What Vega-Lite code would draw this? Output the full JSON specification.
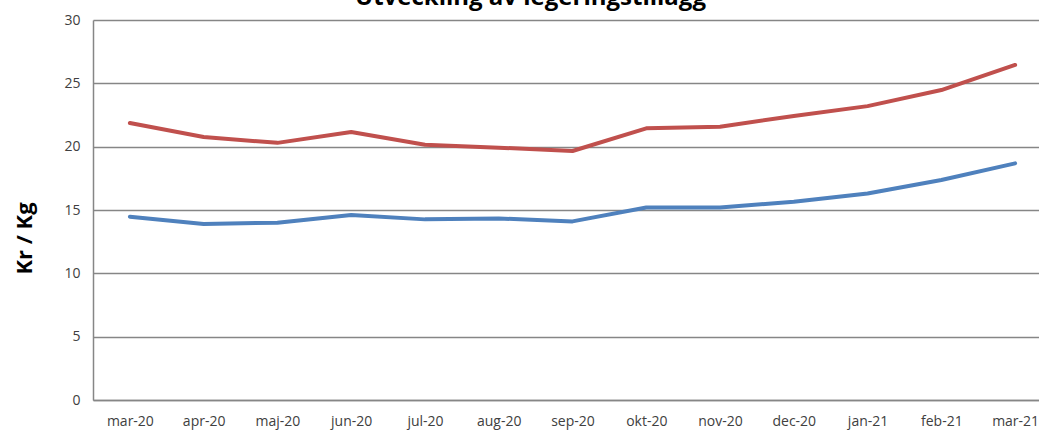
{
  "$schema": "https://vega.github.io/schema/vega-lite/v6.json",
  "autosize": {"type": "none"},
  "width": 959,
  "height": 380,
  "padding": {"left": 93, "top": 20, "right": 0, "bottom": 32},
  "background": "white",
  "title": {
    "text": "Utveckling av legeringstillägg",
    "font": "Open Sans",
    "fontSize": 24,
    "fontWeight": "bold",
    "color": "#000000",
    "anchor": "middle",
    "frame": "group",
    "dx": -42,
    "dy": 16,
    "offset": 0,
    "baseline": "alphabetic"
  },
  "data": {
    "values": [
      {"month": "mar-20", "serie": "A", "value": 21.87},
      {"month": "apr-20", "serie": "A", "value": 20.76},
      {"month": "maj-20", "serie": "A", "value": 20.3},
      {"month": "jun-20", "serie": "A", "value": 21.16},
      {"month": "jul-20", "serie": "A", "value": 20.15},
      {"month": "aug-20", "serie": "A", "value": 19.92},
      {"month": "sep-20", "serie": "A", "value": 19.66},
      {"month": "okt-20", "serie": "A", "value": 21.45},
      {"month": "nov-20", "serie": "A", "value": 21.58},
      {"month": "dec-20", "serie": "A", "value": 22.42},
      {"month": "jan-21", "serie": "A", "value": 23.2},
      {"month": "feb-21", "serie": "A", "value": 24.47},
      {"month": "mar-21", "serie": "A", "value": 26.45},
      {"month": "mar-20", "serie": "B", "value": 14.47},
      {"month": "apr-20", "serie": "B", "value": 13.89},
      {"month": "maj-20", "serie": "B", "value": 14.0},
      {"month": "jun-20", "serie": "B", "value": 14.6},
      {"month": "jul-20", "serie": "B", "value": 14.26},
      {"month": "aug-20", "serie": "B", "value": 14.33},
      {"month": "sep-20", "serie": "B", "value": 14.1},
      {"month": "okt-20", "serie": "B", "value": 15.2},
      {"month": "nov-20", "serie": "B", "value": 15.2},
      {"month": "dec-20", "serie": "B", "value": 15.66},
      {"month": "jan-21", "serie": "B", "value": 16.3},
      {"month": "feb-21", "serie": "B", "value": 17.37},
      {"month": "mar-21", "serie": "B", "value": 18.68}
    ]
  },
  "mark": {"type": "line", "strokeWidth": 4, "strokeCap": "round", "strokeJoin": "round"},
  "encoding": {
    "x": {
      "field": "month",
      "type": "nominal",
      "sort": null,
      "scale": {"type": "point", "padding": 0.5},
      "axis": {
        "title": null,
        "labelAngle": 0,
        "ticks": false,
        "grid": false,
        "domainColor": "#868686",
        "domainWidth": 1.5,
        "labelFont": "Open Sans",
        "labelFontSize": 14,
        "labelColor": "#404040",
        "labelPadding": 14
      }
    },
    "y": {
      "field": "value",
      "type": "quantitative",
      "scale": {"domain": [0, 30], "nice": false},
      "axis": {
        "values": [0, 5, 10, 15, 20, 25, 30],
        "title": "Kr / Kg",
        "titleFont": "Open Sans",
        "titleFontSize": 22,
        "titleFontWeight": "bold",
        "titleColor": "#000000",
        "titleX": -69,
        "titleY": 218,
        "titleAngle": -90,
        "titleBaseline": "middle",
        "ticks": false,
        "grid": true,
        "gridColor": "#868686",
        "gridWidth": 1.3,
        "domainColor": "#868686",
        "domainWidth": 1.5,
        "labelFont": "Open Sans",
        "labelFontSize": 14,
        "labelColor": "#404040",
        "labelPadding": 13
      }
    },
    "color": {
      "field": "serie",
      "type": "nominal",
      "scale": {"domain": ["A", "B"], "range": ["#C0504D", "#4F81BD"]},
      "legend": null
    }
  },
  "config": {"view": {"stroke": null}}
}
